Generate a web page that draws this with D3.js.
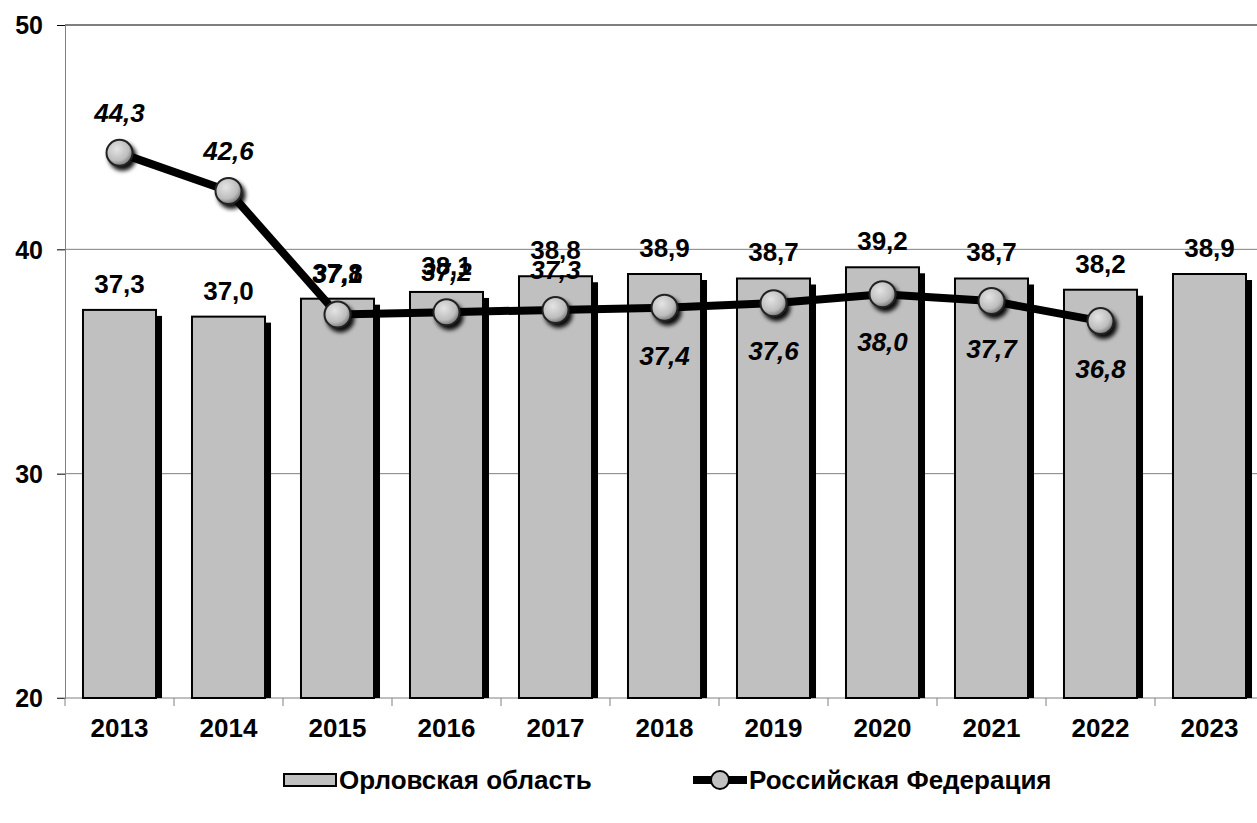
<!DOCTYPE html>
<html>
<head>
<meta charset="utf-8">
<script src="https://cdn.jsdelivr.net/npm/d3@7"></script>
<style>
  body { margin: 0; background: #fff; }
  text { font-family: "Liberation Sans", Arial, sans-serif; font-weight: bold; fill: #000; }
</style>
</head>
<body>
<div class="root"></div>
<script>
const years = ['2013', '2014', '2015', '2016', '2017', '2018', '2019', '2020', '2021', '2022', '2023'];
const oblastValues = [37.3, 37.0, 37.8, 38.1, 38.8, 38.9, 38.7, 39.2, 38.7, 38.2, 38.9];
const russiaValues = [44.3, 42.6, 37.1, 37.2, 37.3, 37.4, 37.6, 38.0, 37.7, 36.8, null];
const yTicks = [20, 30, 40, 50];
const seriesNames = ['Орловская область', 'Российская Федерация'];

const svgWidth = 1257;
const svgHeight = 823;

const svg = d3.select('.root')
  .append('svg')
  .attr('width', svgWidth)
  .attr('height', svgHeight);

const plotLeft = 65, plotTop = 25, plotBottom = 698, plotRight = 1264;

const x = d3.scaleBand().domain(years).range([plotLeft, plotRight]).padding(0);
const y = d3.scaleLinear().domain([20, 50]).range([plotBottom, plotTop]);
const fmt = v => d3.format('.1f')(v).replace('.', ',');

const defs = svg.append('defs');
const grad = defs.append('radialGradient').attr('id', 'ball')
  .attr('cx', '40%').attr('cy', '35%').attr('r', '65%');
grad.append('stop').attr('offset', '0%').attr('stop-color', '#e4e4e4');
grad.append('stop').attr('offset', '70%').attr('stop-color', '#bdbdbd');
grad.append('stop').attr('offset', '100%').attr('stop-color', '#7a7a7a');
defs.append('filter').attr('id', 'shadow')
  .attr('x', '-50%').attr('y', '-50%').attr('width', '200%').attr('height', '200%')
  .append('feDropShadow')
  .attr('dx', 3).attr('dy', 4).attr('stdDeviation', 2)
  .attr('flood-color', '#000').attr('flood-opacity', 0.95);

// gridlines
svg.append('g').selectAll('line')
  .data(yTicks.slice(1))
  .enter().append('line')
  .attr('x1', plotLeft).attr('x2', svgWidth)
  .attr('y1', d => y(d)).attr('y2', d => y(d))
  .attr('stroke', d => d === 50 ? '#000' : '#808080')
  .attr('stroke-width', 1);

// y axis
const yAxis = svg.append('g')
  .attr('transform', `translate(${plotLeft},0)`)
  .call(d3.axisLeft(y).tickValues(yTicks).tickSize(8).tickPadding(14).tickFormat(d3.format('d')));
yAxis.select('.domain').attr('stroke', '#808080');
yAxis.selectAll('.tick line').attr('stroke', '#000');
yAxis.selectAll('.tick text').attr('font-size', 25).attr('dy', '0.35em')
  .style('font-family', '"Liberation Sans", Arial, sans-serif').style('font-weight', 'bold');

// x axis
const xAxis = svg.append('g')
  .attr('transform', `translate(0,${plotBottom})`)
  .call(d3.axisBottom(x).tickSize(0).tickPadding(21));
xAxis.select('.domain').attr('stroke', '#808080').attr('d', `M${plotLeft - 8},0H${svgWidth}`);
xAxis.selectAll('.tick text').attr('font-size', 26)
  .style('font-family', '"Liberation Sans", Arial, sans-serif').style('font-weight', 'bold');
xAxis.selectAll('.bound')
  .data(years)
  .enter().append('line')
  .attr('x1', d => x(d)).attr('x2', d => x(d))
  .attr('y1', 0).attr('y2', 8)
  .attr('stroke', '#808080');

// bars
const barW = x.bandwidth() * 0.67;
const bars = svg.append('g').selectAll('g')
  .data(years.map((d, i) => ({ year: d, value: oblastValues[i] })))
  .enter().append('g');

bars.append('rect')
  .attr('x', d => x(d.year) + (x.bandwidth() - barW) / 2 + 6)
  .attr('y', d => y(d.value) + 6)
  .attr('width', barW)
  .attr('height', d => plotBottom - y(d.value) - 6)
  .attr('fill', '#000');

bars.append('rect')
  .attr('x', d => x(d.year) + (x.bandwidth() - barW) / 2)
  .attr('y', d => y(d.value))
  .attr('width', barW)
  .attr('height', d => plotBottom - y(d.value))
  .attr('fill', '#c0c0c0')
  .attr('stroke', '#000')
  .attr('stroke-width', 2);

bars.append('text')
  .attr('x', d => x(d.year) + x.bandwidth() / 2)
  .attr('y', d => y(d.value) - 17)
  .attr('text-anchor', 'middle')
  .attr('font-size', 26)
  .text(d => fmt(d.value));

// line
const pts = years.map((d, i) => ({ year: d, value: russiaValues[i], i }))
  .filter(d => d.value !== null);

const line = d3.line()
  .x(d => x(d.year) + x.bandwidth() / 2)
  .y(d => y(d.value));

svg.append('path')
  .attr('d', line(pts))
  .attr('fill', 'none')
  .attr('stroke', '#000')
  .attr('stroke-width', 8)
  .attr('stroke-linejoin', 'round');

svg.append('g').selectAll('circle')
  .data(pts)
  .enter().append('circle')
  .attr('cx', d => x(d.year) + x.bandwidth() / 2)
  .attr('cy', d => y(d.value))
  .attr('r', 13)
  .attr('fill', 'url(#ball)')
  .attr('stroke', '#222')
  .attr('stroke-width', 2)
  .attr('filter', 'url(#shadow)');

// first five labels above the markers, the rest below
svg.append('g').selectAll('text')
  .data(pts)
  .enter().append('text')
  .attr('x', d => x(d.year) + x.bandwidth() / 2)
  .attr('y', d => d.i < 5 ? y(d.value) - 31 : y(d.value) + 57)
  .attr('text-anchor', 'middle')
  .attr('font-size', 26)
  .attr('font-style', 'italic')
  .text(d => fmt(d.value));

// legend
const legend = svg.append('g').attr('transform', 'translate(0,780)');
legend.append('rect')
  .attr('x', 284).attr('y', -6).attr('width', 52).attr('height', 12)
  .attr('fill', '#c0c0c0').attr('stroke', '#000').attr('stroke-width', 2);
legend.append('text')
  .attr('x', 339).attr('y', 0).attr('dy', '0.35em')
  .attr('font-size', 26)
  .text(seriesNames[0]);
legend.append('line')
  .attr('x1', 693).attr('x2', 747).attr('y1', 0).attr('y2', 0)
  .attr('stroke', '#000').attr('stroke-width', 8);
legend.append('circle')
  .attr('cx', 720).attr('cy', 0).attr('r', 9)
  .attr('fill', '#c0c0c0').attr('stroke', '#000').attr('stroke-width', 2);
legend.append('text')
  .attr('x', 749).attr('y', 0).attr('dy', '0.35em')
  .attr('font-size', 26)
  .text(seriesNames[1]);
</script>
</body>
</html>
